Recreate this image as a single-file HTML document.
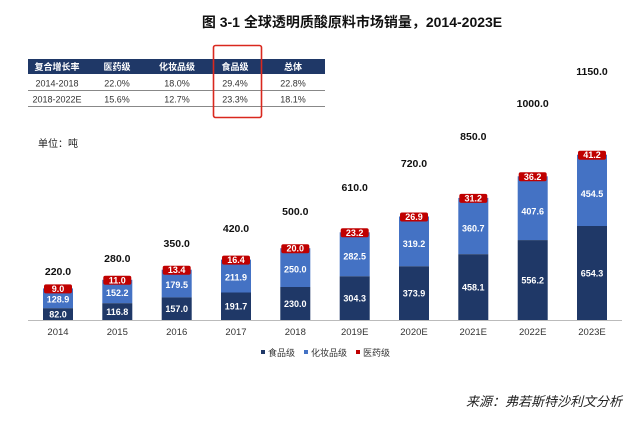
<!DOCTYPE html>
<html><head><meta charset="utf-8"><style>
body{margin:0;background:#fff;}
svg text{font-family:"Liberation Sans","Noto Sans CJK SC",sans-serif;}
</style></head><body>
<svg width="640" height="424" viewBox="0 0 640 424" xmlns="http://www.w3.org/2000/svg">
<rect width="640" height="424" fill="#fff"/>
<text x="352" y="27" text-anchor="middle" font-size="14" font-weight="bold" fill="#111">图 3-1  全球透明质酸原料市场销量，2014-2023E</text>
<!-- table -->
<rect x="28" y="59" width="297" height="15" fill="#1f3867"/>
<g font-size="9" font-weight="bold" fill="#fff" text-anchor="middle">
<text x="57" y="70">复合增长率</text><text x="117" y="70">医药级</text><text x="177" y="70">化妆品级</text><text x="235" y="70">食品级</text><text x="293" y="70">总体</text>
</g>
<g font-size="9" fill="#333" text-anchor="middle">
<text x="57" y="86.5">2014-2018</text><text x="117" y="86.5">22.0%</text><text x="177" y="86.5">18.0%</text><text x="235" y="86.5">29.4%</text><text x="293" y="86.5">22.8%</text>
<text x="57" y="102.5">2018-2022E</text><text x="117" y="102.5">15.6%</text><text x="177" y="102.5">12.7%</text><text x="235" y="102.5">23.3%</text><text x="293" y="102.5">18.1%</text>
</g>
<line x1="28" y1="90.5" x2="325" y2="90.5" stroke="#888" stroke-width="1"/>
<line x1="28" y1="106.5" x2="325" y2="106.5" stroke="#888" stroke-width="1"/>
<rect x="213.5" y="45.5" width="48" height="72" rx="2" fill="none" stroke="#d9281e" stroke-width="1.6"/>
<text x="38" y="147" font-size="10" fill="#222">单位：吨</text>
<line x1="28" y1="320.5" x2="622" y2="320.5" stroke="#bbb" stroke-width="1"/>
<!-- bars -->
<g fill="#4472c4">
<rect x="43" y="288.4" width="30" height="19.8"/><rect x="102.3" y="279.8" width="30" height="23.4"/><rect x="161.7" y="269.7" width="30" height="27.7"/><rect x="221" y="259.6" width="30" height="32.9"/><rect x="280.3" y="248.2" width="30" height="38.8"/><rect x="339.7" y="232.3" width="30" height="44"/><rect x="399" y="216.5" width="30" height="49.8"/><rect x="458.3" y="197.9" width="30" height="56.3"/><rect x="517.7" y="176.3" width="30" height="63.8"/><rect x="577" y="154.7" width="30" height="71.3"/>
</g>
<g fill="#1f3867">
<rect x="43" y="308.2" width="30" height="11.8"/><rect x="102.3" y="303.2" width="30" height="16.8"/><rect x="161.7" y="297.4" width="30" height="22.6"/><rect x="221" y="292.5" width="30" height="27.5"/><rect x="280.3" y="287" width="30" height="33"/><rect x="339.7" y="276.3" width="30" height="43.7"/><rect x="399" y="266.3" width="30" height="53.7"/><rect x="458.3" y="254.2" width="30" height="65.8"/><rect x="517.7" y="240.1" width="30" height="79.9"/><rect x="577" y="226" width="30" height="94"/>
</g>
<g fill="#c00000">
<rect x="44" y="284.4" width="28" height="9" rx="2"/><rect x="103.3" y="275.8" width="28" height="9" rx="2"/><rect x="162.7" y="265.7" width="28" height="9" rx="2"/><rect x="222" y="255.6" width="28" height="9" rx="2"/><rect x="281.3" y="244.2" width="28" height="9" rx="2"/><rect x="340.7" y="228.3" width="28" height="9" rx="2"/><rect x="400" y="212.5" width="28" height="9" rx="2"/><rect x="459.3" y="193.9" width="28" height="9" rx="2"/><rect x="518.7" y="172.3" width="28" height="9" rx="2"/><rect x="578" y="150.7" width="28" height="9" rx="2"/>
</g>
<g font-size="9" font-weight="bold" fill="#fff" text-anchor="middle">
<text x="58" y="292">9.0</text><text x="117.3" y="283.3">11.0</text><text x="176.7" y="273.2">13.4</text><text x="236" y="263.1">16.4</text><text x="295.3" y="251.7">20.0</text><text x="354.7" y="235.8">23.2</text><text x="414" y="220">26.9</text><text x="473.3" y="201.4">31.2</text><text x="532.7" y="179.8">36.2</text><text x="592" y="158.2">41.2</text>
<text x="58" y="302.5">128.9</text><text x="117.3" y="295.8">152.2</text><text x="176.7" y="288">179.5</text><text x="236" y="280.7">211.9</text><text x="295.3" y="272.5">250.0</text><text x="354.7" y="259.5">282.5</text><text x="414" y="246.8">319.2</text><text x="473.3" y="231.7">360.7</text><text x="532.7" y="214.3">407.6</text><text x="592" y="196.8">454.5</text>
<text x="58" y="317.6">82.0</text><text x="117.3" y="315">116.8</text><text x="176.7" y="312.2">157.0</text><text x="236" y="309.7">191.7</text><text x="295.3" y="307">230.0</text><text x="354.7" y="301.7">304.3</text><text x="414" y="296.6">373.9</text><text x="473.3" y="290.6">458.1</text><text x="532.7" y="283.5">556.2</text><text x="592" y="276.5">654.3</text>
</g>
<g font-size="10.5" font-weight="bold" fill="#111" text-anchor="middle">
<text x="58" y="275">220.0</text><text x="117.3" y="262">280.0</text><text x="176.7" y="247">350.0</text><text x="236" y="232">420.0</text><text x="295.3" y="215">500.0</text><text x="354.7" y="191">610.0</text><text x="414" y="167">720.0</text><text x="473.3" y="140">850.0</text><text x="532.7" y="107">1000.0</text><text x="592" y="75">1150.0</text>
</g>
<g font-size="9.5" fill="#333" text-anchor="middle">
<text x="58" y="335">2014</text><text x="117.3" y="335">2015</text><text x="176.7" y="335">2016</text><text x="236" y="335">2017</text><text x="295.3" y="335">2018</text><text x="354.7" y="335">2019E</text><text x="414" y="335">2020E</text><text x="473.3" y="335">2021E</text><text x="532.7" y="335">2022E</text><text x="592" y="335">2023E</text>
</g>
<!-- legend -->
<rect x="261" y="350" width="4" height="4" fill="#1f3867"/><text x="268" y="356" font-size="9" fill="#333">食品级</text>
<rect x="304" y="350" width="4" height="4" fill="#4472c4"/><text x="311" y="356" font-size="9" fill="#333">化妆品级</text>
<rect x="356" y="350" width="4" height="4" fill="#c00000"/><text x="363" y="356" font-size="9" fill="#333">医药级</text>
<text x="622" y="406" text-anchor="end" font-size="13" font-style="italic" fill="#222">来源：弗若斯特沙利文分析</text>
</svg>
</body></html>
